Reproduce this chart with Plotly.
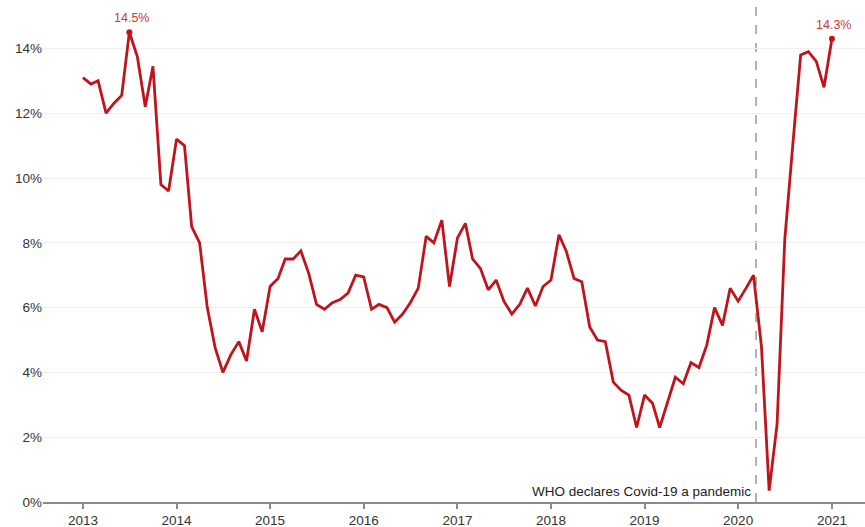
import pandas as pd
import plotly.graph_objects as go

# Monthly values, Jan 2013 .. Jan 2021 (percent)
values_2013 = [13.1, 12.9, 13.0, 12.0, 12.3, 12.55, 14.5, 13.75, 12.2, 13.45, 9.8, 9.6]
values_2014 = [11.2, 11.0, 8.5, 8.0, 6.0, 4.75, 4.0, 4.55, 4.95, 4.35, 5.95, 5.25]
values_2015 = [6.65, 6.9, 7.5, 7.5, 7.75, 7.05, 6.1, 5.95, 6.15, 6.25, 6.45, 7.0]
values_2016 = [6.95, 5.95, 6.1, 6.0, 5.55, 5.8, 6.15, 6.6, 8.2, 8.0, 8.7, 6.65]
values_2017 = [8.15, 8.6, 7.5, 7.2, 6.55, 6.85, 6.2, 5.8, 6.1, 6.6, 6.05, 6.65]
values_2018 = [6.85, 8.25, 7.75, 6.9, 6.8, 5.4, 5.0, 4.95, 3.7, 3.45, 3.3, 2.3]
values_2019 = [3.3, 3.05, 2.3, 3.1, 3.85, 3.65, 4.3, 4.15, 4.85, 6.0, 5.45, 6.6]
values_2020 = [6.2, 6.6, 7.0, 4.8, 0.35, 2.4, 8.1, 11.0, 13.8, 13.9, 13.6, 12.8]
values_2021 = [14.3]

values = (values_2013 + values_2014 + values_2015 + values_2016 + values_2017
          + values_2018 + values_2019 + values_2020 + values_2021)
months = pd.date_range("2013-01-01", periods=len(values), freq="MS")

year_ticks = [f"{y}-01-01" for y in range(2013, 2022)]
year_labels = [str(y) for y in range(2013, 2022)]
y_ticks = [0, 2, 4, 6, 8, 10, 12, 14]
y_labels = [f"{v}%" for v in y_ticks]

event_date = "2020-03-11"
event_text = "WHO declares Covid-19 a pandemic"

highlight_idx = [6, len(values) - 1]
highlight_labels = ["14.5%", "14.3%"]

RED = "#c0141c"

fig = go.Figure()
fig.add_trace(go.Scatter(
    x=months, y=values, mode="lines",
    line=dict(color=RED, width=2.8),
    hoverinfo="skip", showlegend=False,
))
fig.add_trace(go.Scatter(
    x=[months[i] for i in highlight_idx],
    y=[values[i] for i in highlight_idx],
    mode="markers",
    marker=dict(color=RED, size=6),
    hoverinfo="skip", showlegend=False,
))

for i, lab in zip(highlight_idx, highlight_labels):
    fig.add_annotation(
        x=months[i], y=values[i], text=lab, showarrow=False,
        yanchor="bottom", yshift=5, xshift=2,
        font=dict(family="Liberation Sans, Arial", size=12.5, color="#d0343c"),
    )

fig.add_shape(
    type="line", x0=event_date, x1=event_date, xref="x",
    y0=0, y1=1.023, yref="paper",
    line=dict(color="#9a9a9a", width=1.5, dash="dash"),
    layer="below",
)
fig.add_annotation(
    x=event_date, y=0, xref="x", yref="y", text=event_text,
    showarrow=False, xanchor="right", yanchor="bottom",
    xshift=-3, yshift=1,
    font=dict(family="Liberation Sans, Arial", size=13.5, color="#222222"),
)

fig.update_layout(
    width=865, height=527,
    margin=dict(l=43, r=0, t=16, b=25),
    paper_bgcolor="white", plot_bgcolor="white",
    font=dict(family="Liberation Sans, Arial", size=13, color="#333333"),
)
fig.update_xaxes(
    range=["2012-07-29", "2021-05-10"],
    tickvals=year_ticks, ticktext=year_labels,
    showgrid=False, zeroline=False,
    showline=True, linecolor="#8a8a8a", linewidth=2,
    ticks="outside", ticklen=5, tickcolor="#8a8a8a", tickwidth=1.5,
    tickfont=dict(size=13.5, color="#333333"),
)
fig.update_yaxes(
    range=[0, 15],
    tickvals=y_ticks, ticktext=y_labels,
    showgrid=True, gridcolor="#f0f0f0", gridwidth=1,
    zeroline=False, showline=False, ticks="",
    tickfont=dict(size=13.5, color="#333333"),
)

fig.write_html("out.html")
